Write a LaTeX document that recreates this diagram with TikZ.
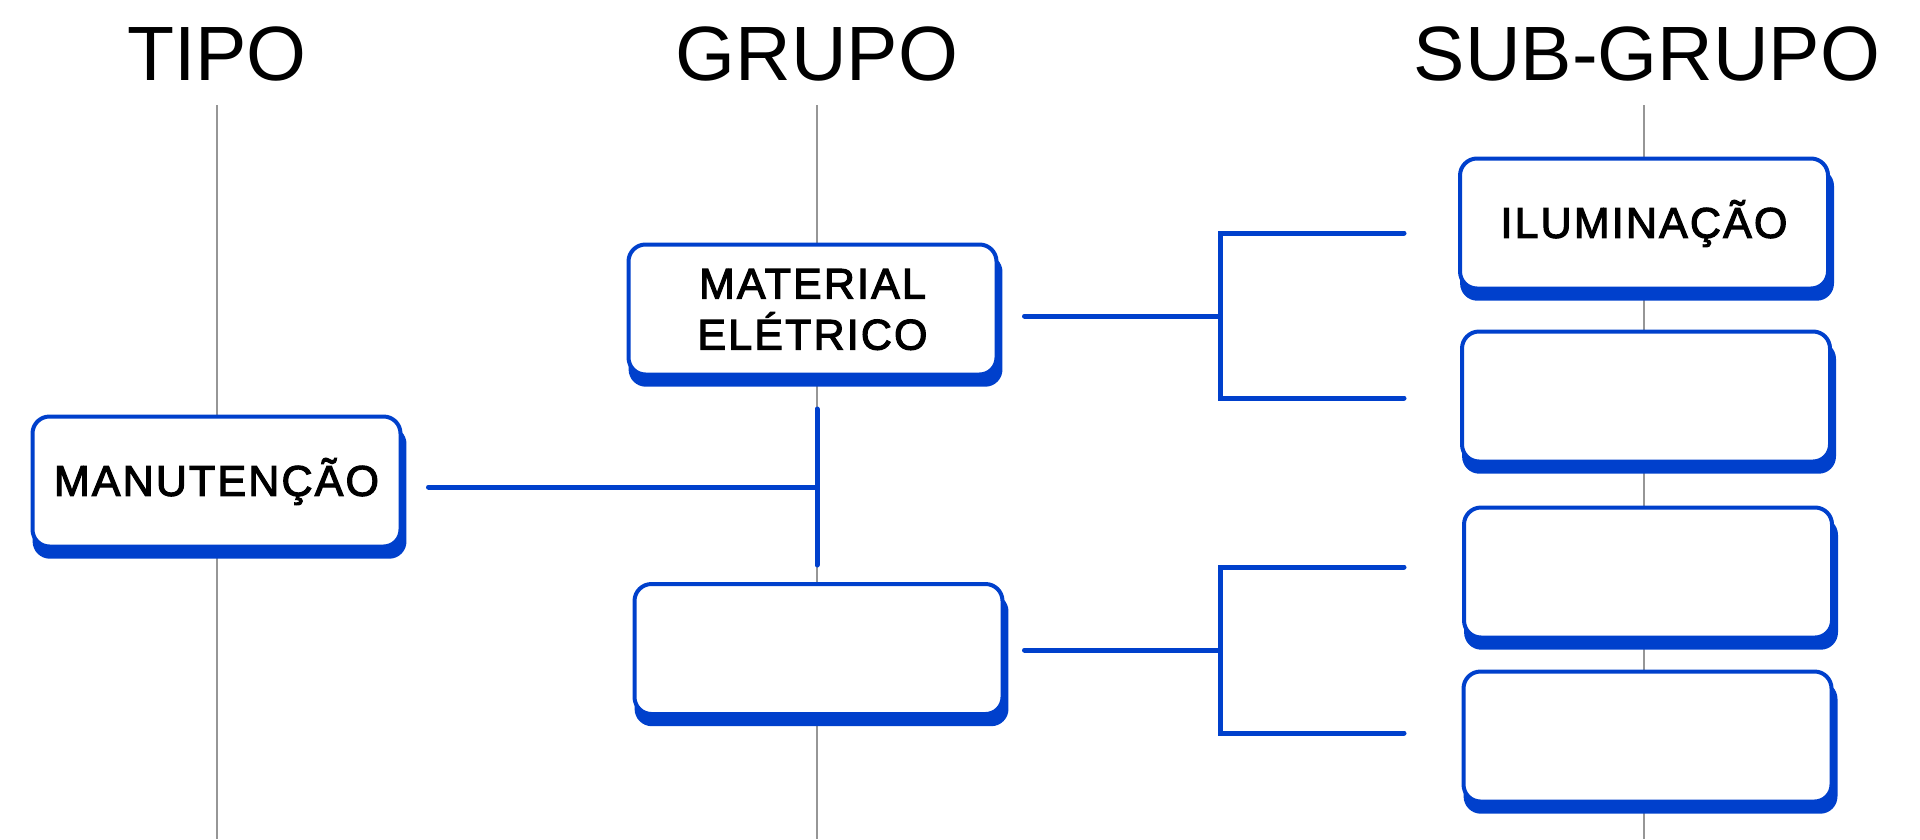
\documentclass[tikz,border=0pt]{standalone}
\usepackage{fontspec}
\setmainfont{Liberation Sans}
\newfontfamily\boxfont[LetterSpace=5,FakeBold=2.6]{Liberation Sans}
\usepackage{xcolor}
\usepackage{tikz}
\usetikzlibrary{shadows, positioning}
\definecolor{mainblue}{RGB}{0,64,204}
\definecolor{guidegray}{RGB}{150,150,150}
\tikzset{
    card/.style={rectangle, rounded corners=17pt, draw=mainblue, line width=4pt, fill=white,
        minimum width=368pt, minimum height=130pt, align=center,
        font={\boxfont\fontsize{43}{51}\selectfont},
        general shadow={fill=mainblue, shadow scale=1.016, shadow xshift=3pt, shadow yshift=-11pt}},
    conn/.style={draw=mainblue, line width=5pt, line cap=round},
    guide/.style={draw=guidegray, line width=1.6pt},
    heading/.style={anchor=base, font={\fontsize{77}{90}\selectfont}},
}

\begin{document}
\begin{tikzpicture}[x=1pt, y=-1pt]
    \useasboundingbox (0,0) rectangle (1920,839);
    % column titles
    \node[heading] (tipo) at (217,80) {TIPO};
    \node[heading] (grupo) at (817,80) {GRUPO};
    \node[heading] (subgrupo) at (1647,80) {SUB-GRUPO};
    % guide lines
    \draw[guide] (217,105) -- (217,839);
    \draw[guide] (817,105) -- (817,839);
    \draw[guide] (1644,105) -- (1644,839);
    % junction points
    \coordinate (jA) at (817,487);
    \coordinate (jAt) at (817,409);
    \coordinate (jAb) at (817,565);
    \coordinate (bA) at (1220,316);
    \coordinate (bB) at (1220,650);
    \coordinate (s1in) at (1404,233);
    \coordinate (s2in) at (1404,398);
    \coordinate (s3in) at (1404,567);
    \coordinate (s4in) at (1404,733);
    % boxes
    \node[card] (man) at (216.5,481.5) {MANUTENÇÃO};
    \node[card] (mat) at (812.5,309.5) {MATERIAL\\ELÉTRICO};
    \node[card] (g2) at (818.5,649) {};
    \node[card] (s1) at (1644,223.5) {ILUMINAÇÃO};
    \node[card] (s2) at (1646,396.5) {};
    \node[card] (s3) at (1648,572.5) {};
    \node[card] (s4) at (1647.5,736.5) {};
    % connectors
    \draw[conn] (man.east) ++(26,5.5) -- (jA);
    \draw[conn] (jAt) -- (jAb);
    \draw[conn] (mat.east) ++(26,6.5) -- (bA);
    \draw[conn] (s1in) -| (bA) |- (s2in);
    \draw[conn] (g2.east) ++(20,1) -- (bB);
    \draw[conn] (s3in) -| (bB) |- (s4in);
\end{tikzpicture}
\end{document}
